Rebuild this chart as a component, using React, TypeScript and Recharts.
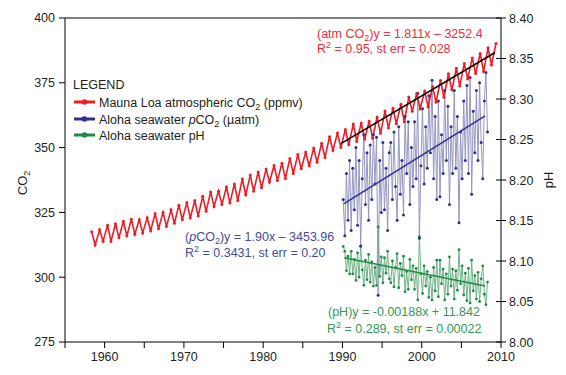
import React from 'react';
import { ComposedChart, Line, XAxis, YAxis, ReferenceLine } from 'recharts';

const FONT = '"Liberation Sans", Arial, sans-serif';
const INK = '#231f20';

// Mauna Loa CO2 (ppmv): seasonal high (May) and low (Oct) per year
const mlYears = Array.from({ length: 52 }, (_, i) => 1958 + i);
const mlPeak = [
  317.5, 318.3, 320.0, 320.6, 321.6, 322.4, 322.2, 322.9, 324.6, 325.0,
  326.0, 327.8, 328.8, 329.6, 331.2, 332.9, 333.2, 334.9, 336.0, 337.9,
  339.4, 340.6, 341.7, 343.1, 344.0, 345.8, 347.3, 348.3, 349.8, 351.7,
  354.2, 355.6, 357.0, 359.1, 359.5, 360.2, 361.8, 364.1, 365.2, 366.7,
  369.5, 370.9, 371.8, 373.6, 375.9, 378.5, 380.6, 382.4, 384.6, 386.3,
  388.5, 390.2,
];
const mlTrough = [
  312.4, 313.9, 313.8, 315.2, 315.9, 316.6, 317.1, 317.8, 318.7, 319.6,
  320.8, 322.2, 322.8, 323.6, 325.4, 327.3, 328.0, 328.6, 329.6, 331.7,
  333.2, 334.5, 336.7, 337.3, 338.1, 340.0, 341.8, 342.9, 344.3, 346.2,
  348.9, 350.0, 351.1, 352.4, 353.2, 353.6, 355.5, 357.6, 359.2, 360.0,
  364.0, 364.9, 365.7, 367.5, 369.4, 372.3, 373.8, 376.5, 378.6, 379.4,
  381.9,
];

// Station ALOHA cruises, a few samples per year
const hotYears = Array.from({ length: 19 }, (_, i) => 1990 + i);
const hotPco2 = [
  [330, 316, 340, 322, 345],
  [318, 342, 326, 350, 320],
  [345, 312, 338, 355, 328],
  [348, 322, 351, 330, 355],
  [336, 354, 293, 345, 325],
  [352, 326, 342, 318, 348],
  [352, 330, 356, 335, 322],
  [358, 332, 345, 324, 362],
  [340, 360, 328, 350, 335],
  [360, 338, 371, 315, 343],
  [365, 336, 358, 342, 370],
  [348, 376, 338, 362, 330],
  [368, 331, 355, 340, 372],
  [345, 366, 328, 358, 340],
  [372, 342, 362, 321, 356],
  [338, 368, 345, 374, 340],
  [377, 332, 364, 348, 372],
  [345, 375, 352, 338, 368],
  [379, 356],
];
const hotPh = [
  [8.118, 8.112, 8.088, 8.106, 8.084],
  [8.112, 8.084, 8.102, 8.076, 8.11],
  [8.08, 8.118, 8.089, 8.07, 8.101],
  [8.077, 8.108, 8.074, 8.099, 8.069],
  [8.092, 8.07, 8.142, 8.081, 8.105],
  [8.073, 8.104, 8.085, 8.112, 8.078],
  [8.073, 8.1, 8.068, 8.092, 8.109],
  [8.067, 8.097, 8.082, 8.106, 8.062],
  [8.087, 8.065, 8.102, 8.077, 8.094],
  [8.065, 8.091, 8.052, 8.13, 8.084],
  [8.06, 8.094, 8.069, 8.087, 8.055],
  [8.08, 8.052, 8.092, 8.063, 8.101],
  [8.056, 8.101, 8.072, 8.09, 8.052],
  [8.084, 8.059, 8.105, 8.069, 8.09],
  [8.053, 8.088, 8.064, 8.114, 8.072],
  [8.094, 8.058, 8.085, 8.051, 8.091],
  [8.048, 8.101, 8.063, 8.082, 8.053],
  [8.086, 8.05, 8.078, 8.094, 8.059],
  [8.046, 8.074],
];

// fitted trend lines, end points
const atmFitYears = [1989.8, 2009.2];
const atmFit = [351.5, 386.6];
const hotFitYears = [1990.2, 2008.0];
const pco2Fit = [328.4, 362.2];
const phFit = [8.104, 8.069];

const xTicks = [1955, 1960, 1965, 1970, 1975, 1980, 1985, 1990, 1995, 2000, 2005, 2010];
const co2Ticks = [275, 300, 325, 350, 375, 400];
const phTicks = [8.0, 8.05, 8.1, 8.15, 8.2, 8.25, 8.3, 8.35, 8.4];

const RED = '#ee1c25';
const NAVY = '#2e3192';
const GREEN = '#1e8c45';

const mlData: { year: number; co2: number }[] = [];
mlYears.forEach((y, i) => {
  mlData.push({ year: y + 0.37, co2: mlPeak[i] });
  if (mlTrough[i] !== undefined) mlData.push({ year: y + 0.8, co2: mlTrough[i] });
});

const pco2Data: { year: number; pco2: number }[] = [];
const phData: { year: number; ph: number }[] = [];
hotYears.forEach((y, i) => {
  hotPco2[i].forEach((v, j) => pco2Data.push({ year: y + 0.1 + 0.2 * j, pco2: v }));
  hotPh[i].forEach((v, j) => phData.push({ year: y + 0.1 + 0.2 * j, ph: v }));
});

const atmFitData = atmFitYears.map((year, i) => ({ year, co2: atmFit[i] }));
const pco2FitData = hotFitYears.map((year, i) => ({ year, pco2: pco2Fit[i] }));
const phFitData = hotFitYears.map((year, i) => ({ year, ph: phFit[i] }));

function XTick(props: any) {
  const { x, y, payload } = props;
  if (payload.value % 10 !== 0) return <g />;
  return (
    <text x={x} y={y + 11} textAnchor="middle" fill={INK} fontSize={12.5} fontFamily={FONT}>
      {payload.value}
    </text>
  );
}

function PhTick(props: any) {
  const { x, y, payload } = props;
  const ax = x - 8;
  return (
    <g>
      <line x1={ax - 5} x2={ax + 5} y1={y} y2={y} stroke="#000" />
      <text x={x} y={y + 4.5} fill={INK} fontSize={12.5} fontFamily={FONT}>
        {Number(payload.value).toFixed(2)}
      </text>
    </g>
  );
}

const Sub = ({ children }: { children: React.ReactNode }) => (
  <tspan fontSize={9} baselineShift={-3}>{children}</tspan>
);
const Sup = ({ children }: { children: React.ReactNode }) => (
  <tspan fontSize={9} baselineShift={5}>{children}</tspan>
);

function LegendItem({ y, color, children }: { y: number; color: string; children: React.ReactNode }) {
  return (
    <g>
      <line x1={74} x2={95} y1={y} y2={y} stroke={color} strokeWidth={3} />
      <circle cx={84.5} cy={y} r={2.8} fill={color} />
      <text x={99} y={y + 4.5} fill={INK} fontSize={12.5} fontFamily={FONT}>
        {children}
      </text>
    </g>
  );
}

export default function App() {
  return (
    <div style={{ position: 'absolute', left: 0, top: 0, width: 566, height: 375, background: '#fff' }}>
      <ComposedChart width={566} height={375} margin={{ top: 18, right: 10, bottom: 10, left: 10 }}>
        <XAxis
          dataKey="year"
          type="number"
          domain={[1955, 2010]}
          ticks={xTicks}
          interval={0}
          height={23}
          tickSize={6}
          stroke="#000"
          tick={<XTick />}
        />
        <YAxis
          yAxisId="co2"
          orientation="left"
          width={55}
          domain={[275, 400]}
          ticks={co2Ticks}
          interval={0}
          tickSize={6}
          tickMargin={4}
          stroke="#000"
          tick={{ fill: INK, fontSize: 12.5, fontFamily: FONT }}
        />
        <YAxis
          yAxisId="ph"
          orientation="right"
          width={55}
          domain={[8.0, 8.4]}
          ticks={phTicks}
          interval={0}
          tickSize={6}
          tickMargin={2}
          tickLine={false}
          stroke="#000"
          tick={<PhTick />}
        />
        <ReferenceLine yAxisId="co2" y={400} stroke="#000" />

        <Line
          data={phData}
          yAxisId="ph"
          dataKey="ph"
          type="linear"
          stroke="#6fb486"
          strokeWidth={1}
          dot={{ r: 1.4, fill: GREEN, stroke: 'none' }}
          activeDot={false}
          isAnimationActive={false}
        />
        <Line
          data={pco2Data}
          yAxisId="co2"
          dataKey="pco2"
          type="linear"
          stroke="#9597c0"
          strokeWidth={1}
          dot={{ r: 1.5, fill: NAVY, stroke: 'none' }}
          activeDot={false}
          isAnimationActive={false}
        />
        <Line
          data={mlData}
          yAxisId="co2"
          dataKey="co2"
          type="linear"
          stroke={RED}
          strokeWidth={1.6}
          dot={{ r: 1.5, fill: RED, stroke: 'none' }}
          activeDot={false}
          isAnimationActive={false}
        />
        <Line data={atmFitData} yAxisId="co2" dataKey="co2" stroke="#000" strokeWidth={1.5} dot={false} activeDot={false} isAnimationActive={false} />
        <Line data={pco2FitData} yAxisId="co2" dataKey="pco2" stroke={NAVY} strokeWidth={1.5} dot={false} activeDot={false} isAnimationActive={false} />
        <Line data={phFitData} yAxisId="ph" dataKey="ph" stroke={GREEN} strokeWidth={1.5} dot={false} activeDot={false} isAnimationActive={false} />
      </ComposedChart>

      <svg
        width={566}
        height={375}
        style={{ position: 'absolute', left: 0, top: 0, pointerEvents: 'none' }}
        fontFamily={FONT}
      >
        <text transform="translate(26.5,183) rotate(-90)" textAnchor="middle" fill={INK} fontSize={13}>
          CO<Sub>2</Sub>
        </text>
        <text transform="translate(552.5,180) rotate(-90)" textAnchor="middle" fill={INK} fontSize={13}>
          pH
        </text>

        <text x={73} y={88.5} fill={INK} fontSize={12.5}>LEGEND</text>
        <LegendItem y={102} color={RED}>
          Mauna Loa atmospheric CO<Sub>2</Sub> (ppmv)
        </LegendItem>
        <LegendItem y={119} color={NAVY}>
          Aloha seawater <tspan fontStyle="italic">p</tspan>CO<Sub>2</Sub> (µatm)
        </LegendItem>
        <LegendItem y={135} color={GREEN}>
          Aloha seawater pH
        </LegendItem>

        <g fill="#ee2d35" fontSize={12.5}>
          <text x={317} y={38}>
            (atm CO<Sub>2</Sub>)y = 1.811x – 3252.4
          </text>
          <text x={317} y={53}>
            R<Sup>2</Sup> = 0.95, st err = 0.028
          </text>
        </g>
        <g fill="#464b9c" fontSize={12.5}>
          <text x={185} y={240.5}>
            (<tspan fontStyle="italic">p</tspan>CO<Sub>2</Sub>)y = 1.90x – 3453.96
          </text>
          <text x={185} y={256.5}>
            R<Sup>2</Sup> = 0.3431, st err = 0.20
          </text>
        </g>
        <g fill="#2f9a57" fontSize={12.5}>
          <text x={328} y={315.5}>(pH)y = -0.00188x + 11.842</text>
          <text x={327} y={332.5}>
            R<Sup>2</Sup> = 0.289, st err = 0.00022
          </text>
        </g>
      </svg>
    </div>
  );
}
